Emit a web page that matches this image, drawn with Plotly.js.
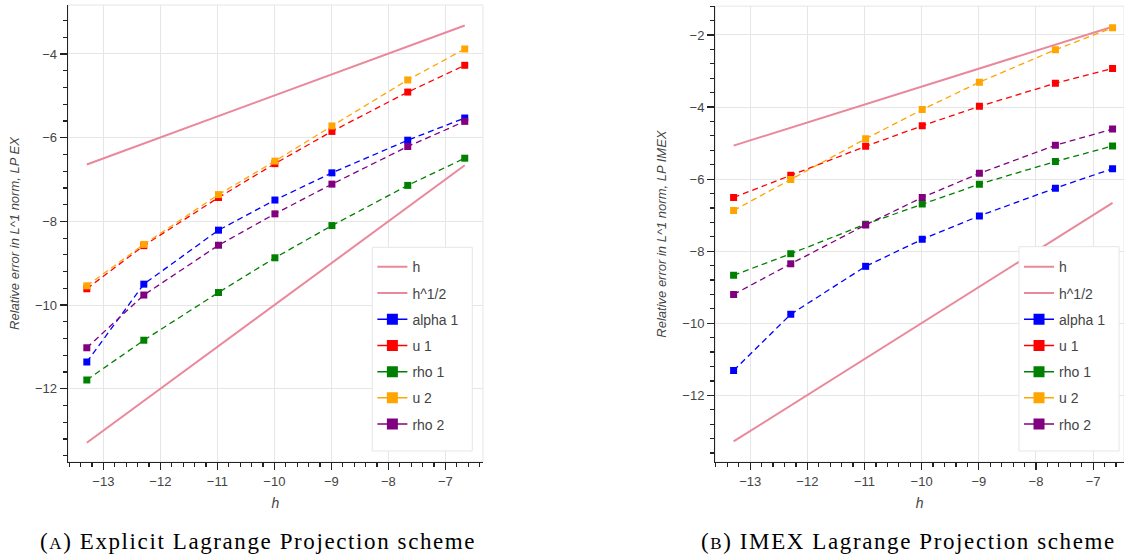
<!DOCTYPE html>
<html>
<head>
<meta charset="utf-8">
<script src="https://cdn.plot.ly/plotly-3.0.1.min.js"></script>
<style>html,body{margin:0;padding:0;background:#fff;}#chart{width:1124px;height:559px;}</style>
</head>
<body>
<div id="chart"></div>
<script>
// ---- data ----
const logH = [-13.29, -12.29, -10.98, -9.99, -8.99, -7.66, -6.66];
const refX = [-13.29, -6.66];

// (A) Explicit LP
const exRefH = [-13.29, -6.66];
const exRefHalf = [-6.64, -3.32];
const exAlpha1 = [-11.36, -9.50, -8.21, -7.49, -6.84, -6.06, -5.53];
const exU1 = [-9.61, -8.58, -7.43, -6.62, -5.85, -4.91, -4.27];
const exRho1 = [-11.79, -10.84, -9.70, -8.87, -8.10, -7.14, -6.49];
const exU2 = [-9.54, -8.55, -7.36, -6.56, -5.72, -4.62, -3.88];
const exRho2 = [-11.02, -9.76, -8.57, -7.82, -7.11, -6.21, -5.61];

// (B) IMEX LP
const imRefH = [-13.28, -6.66];
const imRefHalf = [-5.07, -1.77];
const imAlpha1 = [-11.31, -9.75, -8.42, -7.67, -7.02, -6.25, -5.71];
const imU1 = [-6.51, -5.89, -5.09, -4.52, -3.98, -3.34, -2.93];
const imRho1 = [-8.67, -8.07, -7.25, -6.69, -6.14, -5.51, -5.08];
const imU2 = [-6.87, -6.01, -4.88, -4.07, -3.31, -2.41, -1.80];
const imRho2 = [-9.20, -8.35, -7.27, -6.51, -5.84, -5.06, -4.61];

const seriesNames = ['alpha 1', 'u 1', 'rho 1', 'u 2', 'rho 2'];
const seriesColors = ['#0000ff', '#ff0000', '#008000', '#ffa500', '#800080'];
const refNames = ['h', 'h^1/2'];
const titlesY = ['Relative error in L^1 norm, LP EX', 'Relative error in L^1 norm, LP IMEX'];
const captions = ['<span style="letter-spacing:1.6px">(<span style="font-size:17px">A</span>) Explicit Lagrange Projection scheme</span>',
                  '<span style="letter-spacing:1.6px">(<span style="font-size:17px">B</span>) IMEX Lagrange Projection scheme</span>'];

// ---- build ----
const pink = 'rgb(234,136,155)';
const traces = [];
function addPanel(xa, ya, leg, refH, refHalf, series) {
  [[refH, refNames[0]], [refHalf, refNames[1]]].forEach(([ys, nm]) => {
    traces.push({x: refX, y: ys, xaxis: xa, yaxis: ya, mode: 'lines', name: nm,
      legend: leg, legendgroup: leg + nm,
      line: {color: pink, width: 2}, hoverinfo: 'skip'});
  });
  series.forEach((ys, i) => {
    traces.push({x: logH, y: ys, xaxis: xa, yaxis: ya, mode: 'lines+markers',
      name: seriesNames[i], showlegend: false,
      line: {color: seriesColors[i], width: 1.3, dash: '6px,4px'},
      marker: {symbol: 'square', size: 7, color: seriesColors[i]}});
    traces.push({x: [null], y: [null], xaxis: xa, yaxis: ya, mode: 'lines+markers',
      name: seriesNames[i], legend: leg, legendgroup: leg + seriesNames[i],
      line: {color: seriesColors[i], width: 1.5},
      marker: {symbol: 'square', size: 11, color: seriesColors[i]}});
  });
}
addPanel('x', 'y', 'legend', exRefH, exRefHalf, [exAlpha1, exU1, exRho1, exU2, exRho2]);
addPanel('x2', 'y2', 'legend2', imRefH, imRefHalf, [imAlpha1, imU1, imRho1, imU2, imRho2]);

const tickFont = {family: 'Liberation Sans, Arial, sans-serif', size: 13, color: '#444'};
function xAxis(domain, range, anchor) {
  return {domain: domain, range: range, anchor: anchor, dtick: 1, tick0: 0,
    showline: true, linecolor: '#222', linewidth: 1.3, ticks: 'outside', ticklen: 7, tickcolor: '#222', tickwidth: 1.2,
    minor: {dtick: 0.2, ticks: 'outside', ticklen: 4, tickcolor: '#222', showgrid: false},
    showgrid: true, gridcolor: '#e6e6e6', gridwidth: 1, zeroline: false, tickfont: tickFont,
    title: {text: 'h', font: {family: 'Liberation Sans, Arial, sans-serif', size: 14, color: '#444', style: 'italic'}, standoff: 10},
    automargin: false, fixedrange: true};
}
function yAxis(domain, range, anchor, title) {
  return {domain: domain, range: range, anchor: anchor, dtick: 2, tick0: 0,
    showline: true, linecolor: '#222', linewidth: 1.3, ticks: 'outside', ticklen: 7, tickcolor: '#222', tickwidth: 1.2,
    minor: {dtick: 0.4, ticks: 'outside', ticklen: 4, tickcolor: '#222', showgrid: false},
    showgrid: true, gridcolor: '#e6e6e6', gridwidth: 1, zeroline: false, tickfont: tickFont,
    title: {text: title, font: {family: 'Liberation Sans, Arial, sans-serif', size: 13, color: '#444', style: 'italic'}, standoff: 12},
    automargin: false, fixedrange: true};
}
const legendStyle = (x) => ({x: x, y: 0.5505, xanchor: 'left', yanchor: 'top',
  bgcolor: 'rgba(0,0,0,0)', borderwidth: 0, tracegroupgap: 5,
  font: {family: 'Liberation Sans, Arial, sans-serif', size: 14, color: '#444'}, itemwidth: 30});

const capFont = {family: 'Liberation Serif, DejaVu Serif, serif', size: 23, color: '#000'};
const boxStyle = {type: 'rect', xref: 'paper', yref: 'paper', fillcolor: '#fff', line: {color: '#e6e6e6', width: 1}, layer: 'above'};
const layout = {
  width: 1124, height: 559, margin: {l: 0, r: 0, t: 0, b: 0},
  paper_bgcolor: '#fff', plot_bgcolor: '#fff', showlegend: true,
  xaxis: xAxis([0.0605, 0.4297], [-13.62, -6.34], 'y'),
  yaxis: yAxis([0.1735, 0.991], [-13.75, -2.83], 'x', titlesY[0]),
  xaxis2: xAxis([0.6364, 1.0], [-13.61, -6.46], 'y2'),
  yaxis2: yAxis([0.1735, 0.989], [-13.85, -1.2], 'x2', titlesY[1]),
  legend: legendStyle(0.3313),
  legend2: legendStyle(0.9066),
  shapes: [
    {type: 'rect', xref: 'x domain', yref: 'y domain', x0: 0, x1: 1, y0: 0, y1: 1, line: {color: '#e6e6e6', width: 1}, layer: 'below'},
    {type: 'rect', xref: 'x2 domain', yref: 'y2 domain', x0: 0, x1: 1, y0: 0, y1: 1, line: {color: '#e6e6e6', width: 1}, layer: 'below'},
    Object.assign({x0: 0.3312, x1: 0.4202, y0: 0.1932, y1: 0.5576}, boxStyle),
    Object.assign({x0: 0.9066, x1: 0.9956, y0: 0.1932, y1: 0.5587}, boxStyle)
  ],
  annotations: [
    {text: captions[0], xref: 'paper', yref: 'paper', x: 0.2295, y: 0.031, xanchor: 'center', yanchor: 'middle', showarrow: false, font: capFont},
    {text: captions[1], xref: 'paper', yref: 'paper', x: 0.808, y: 0.031, xanchor: 'center', yanchor: 'middle', showarrow: false, font: capFont}
  ]
};
Plotly.newPlot('chart', traces, layout, {displayModeBar: false, staticPlot: true});
</script>
</body>
</html>
